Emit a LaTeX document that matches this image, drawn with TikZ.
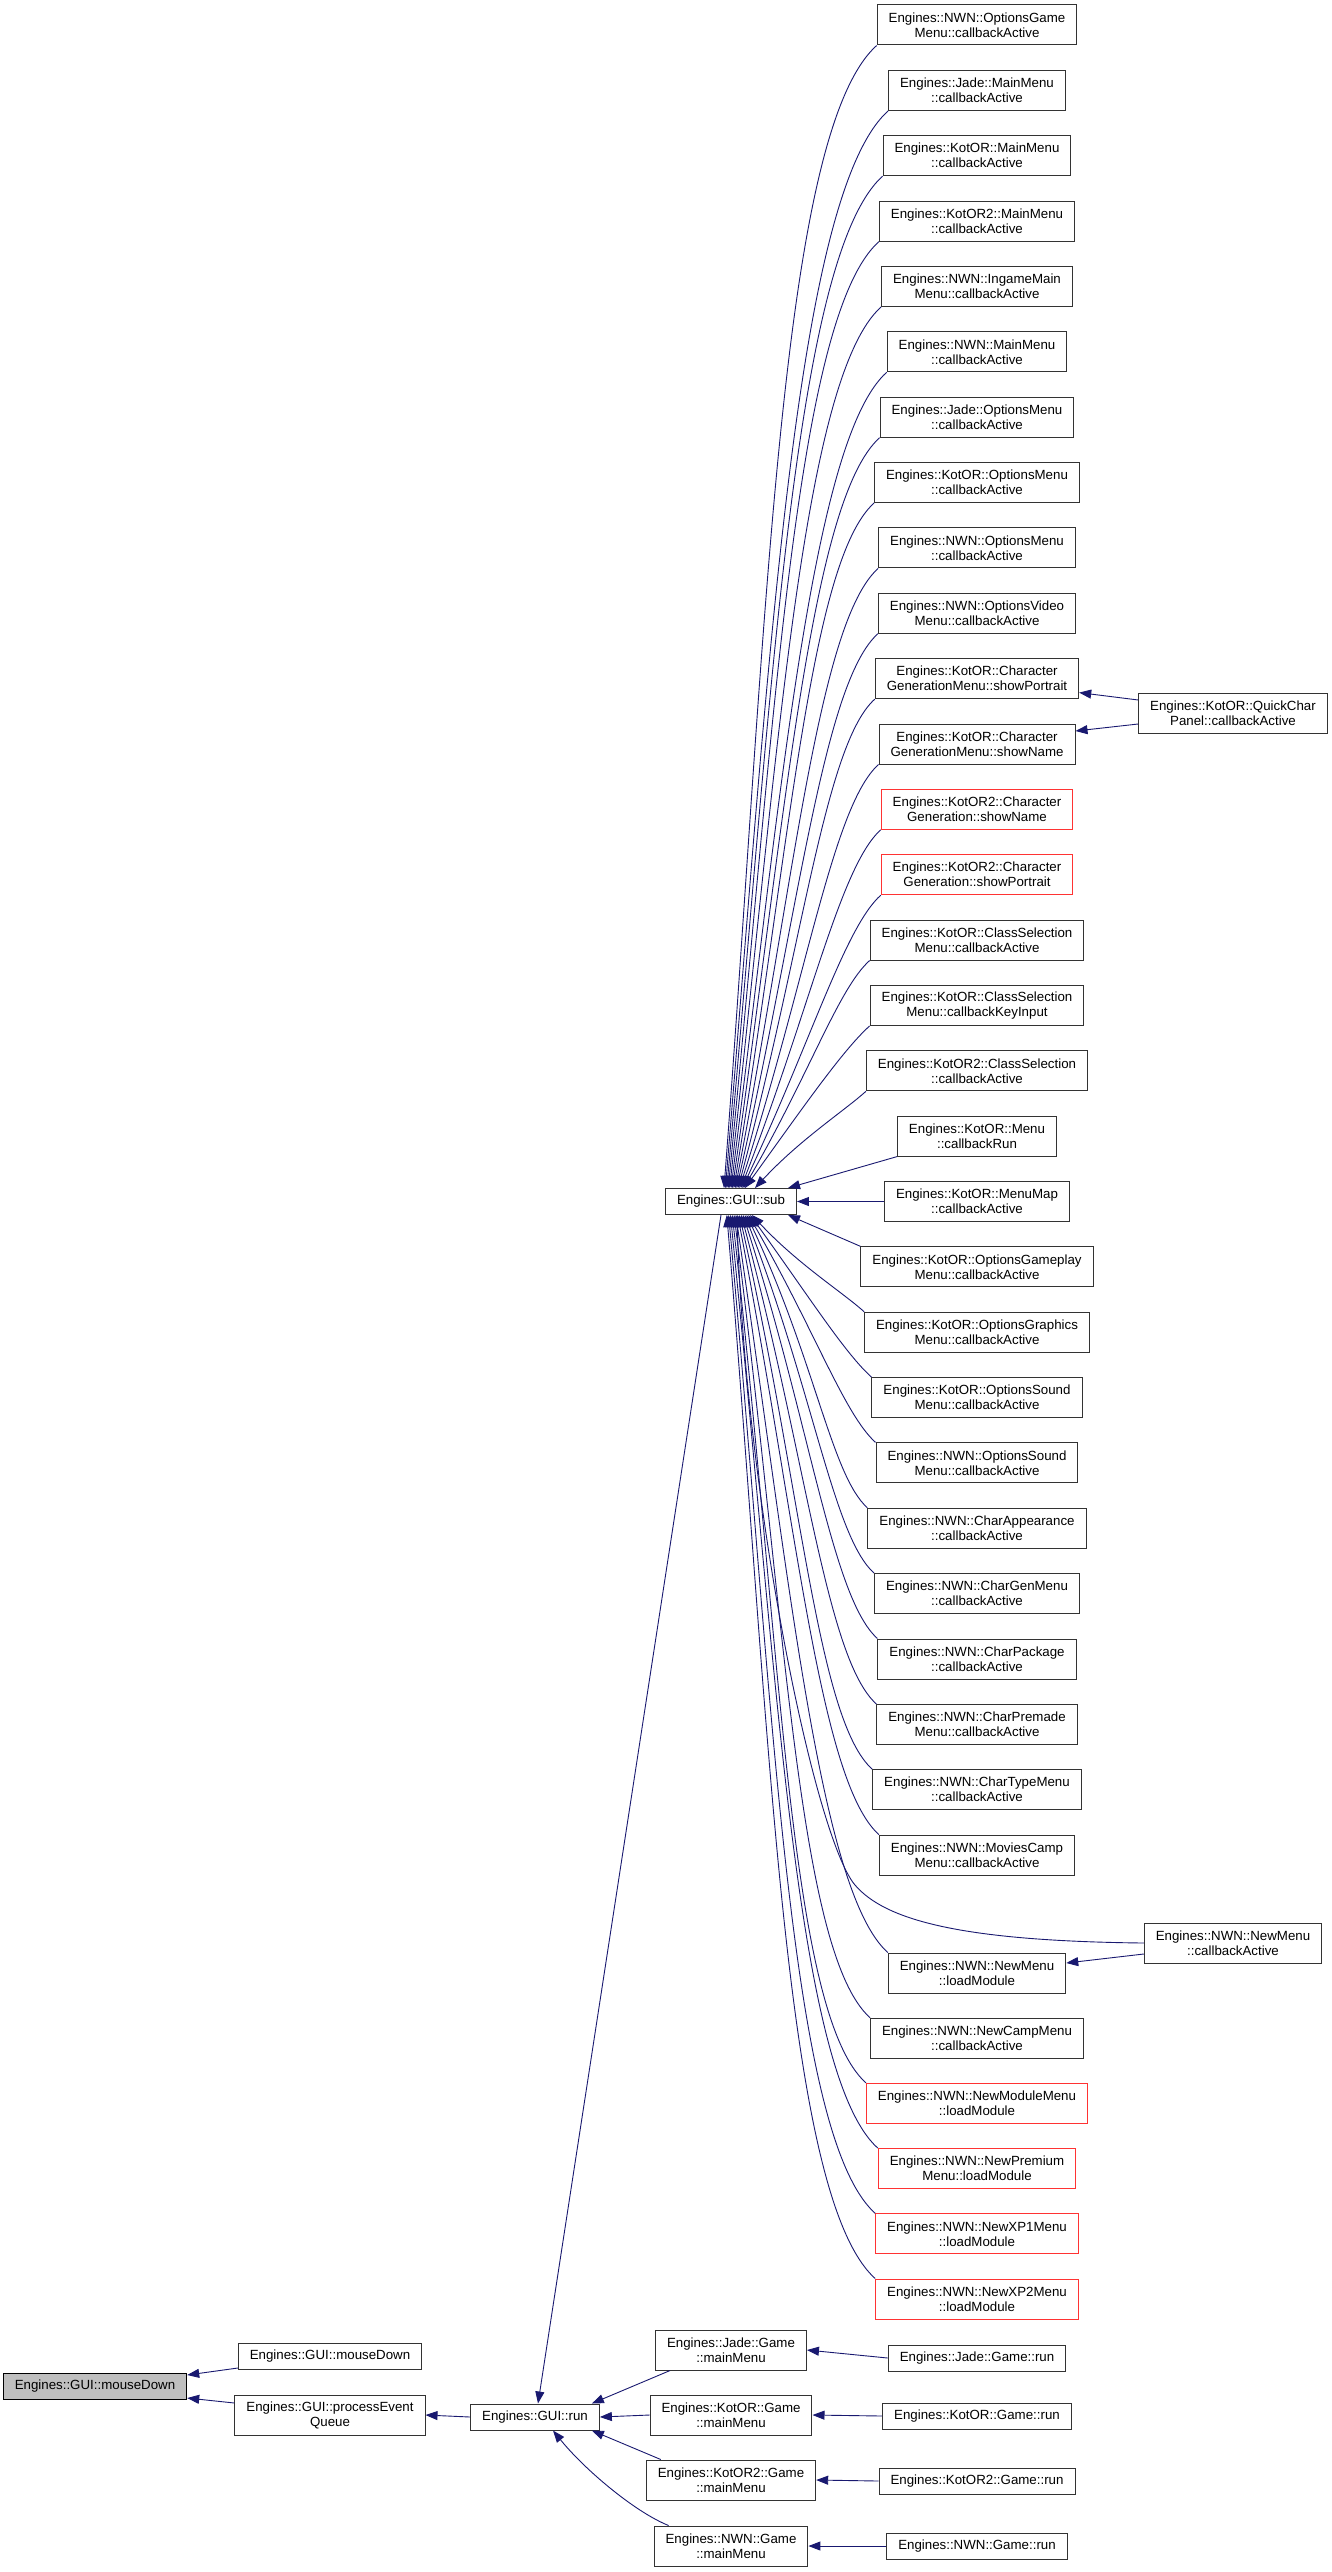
\documentclass[tikz,border=0pt]{standalone}
\usepackage{fontspec}
\setmainfont{Liberation Sans}
\usetikzlibrary{arrows.meta,calc}
\definecolor{edgec}{HTML}{191970}
\definecolor{boxc}{HTML}{333333}
\definecolor{redc}{HTML}{FF3333}
\definecolor{grayfill}{HTML}{BFBFBF}
\tikzset{
  box/.style={draw=boxc, line width=1pt, fill=white, rectangle, align=center,
    inner xsep=11.5pt, inner ysep=0pt, minimum height=26pt,
    font=\fontsize{13.3}{15}\selectfont},
  two/.style={minimum height=40pt},
  edge/.style={draw=edgec, line width=0.9pt, -{Triangle[length=12pt,width=9pt]}},
}
% #1 node, #2 x offset of arrow tip from sub centre, #3 vertical distance
\newcommand\UpEdge[3]{%
  \pgfmathsetmacro\EdH{15+#3/14}%
  \pgfmathsetmacro\EdB{#2+8+0.02*#3+0.5*#3*exp(-#3/300)}%
  \draw[edge] (#1.south west) .. controls ($(#1.south west)+(-\EdH,0.9*\EdH)$)
    and ($(sub.north)+(\EdB,-0.5*#3)$) .. ($(sub.north)+(#2,0)$);}
\newcommand\LowEdge[3]{%
  \pgfmathsetmacro\EdH{15+#3/14}%
  \pgfmathsetmacro\EdB{#2+8+0.02*#3+0.5*#3*exp(-#3/300)}%
  \draw[edge] (#1.north west) .. controls ($(#1.north west)+(-\EdH,-0.9*\EdH)$)
    and ($(sub.south)+(\EdB,0.5*#3)$) .. ($(sub.south)+(#2,0)$);}
\begin{document}
\begin{tikzpicture}[x=1pt,y=-1pt]
\fill[white] (0,0) rectangle (1332,2572);
\useasboundingbox (0,0) rectangle (1332,2572);

% column of callers of GUI::sub
\foreach \k/\y/\c/\t in {
 1/25/boxc/{Engines::NWN::OptionsGame\\Menu::callbackActive},
 2/90.4/boxc/{Engines::Jade::MainMenu\\::callbackActive},
 3/155.7/boxc/{Engines::KotOR::MainMenu\\::callbackActive},
 4/221.1/boxc/{Engines::KotOR2::MainMenu\\::callbackActive},
 5/286.4/boxc/{Engines::NWN::IngameMain\\Menu::callbackActive},
 6/351.8/boxc/{Engines::NWN::MainMenu\\::callbackActive},
 7/417.2/boxc/{Engines::Jade::OptionsMenu\\::callbackActive},
 8/482.5/boxc/{Engines::KotOR::OptionsMenu\\::callbackActive},
 9/547.9/boxc/{Engines::NWN::OptionsMenu\\::callbackActive},
 10/613.2/boxc/{Engines::NWN::OptionsVideo\\Menu::callbackActive},
 11/678.6/boxc/{Engines::KotOR::Character\\GenerationMenu::showPortrait},
 12/744/boxc/{Engines::KotOR::Character\\GenerationMenu::showName},
 13/809.3/redc/{Engines::KotOR2::Character\\Generation::showName},
 14/874.7/redc/{Engines::KotOR2::Character\\Generation::showPortrait},
 15/940/boxc/{Engines::KotOR::ClassSelection\\Menu::callbackActive},
 16/1005.4/boxc/{Engines::KotOR::ClassSelection\\Menu::callbackKeyInput},
 17/1070.8/boxc/{Engines::KotOR2::ClassSelection\\::callbackActive},
 18/1136.1/boxc/{Engines::KotOR::Menu\\::callbackRun},
 19/1201.5/boxc/{Engines::KotOR::MenuMap\\::callbackActive},
 20/1266.8/boxc/{Engines::KotOR::OptionsGameplay\\Menu::callbackActive},
 21/1332.2/boxc/{Engines::KotOR::OptionsGraphics\\Menu::callbackActive},
 22/1397.6/boxc/{Engines::KotOR::OptionsSound\\Menu::callbackActive},
 23/1462.9/boxc/{Engines::NWN::OptionsSound\\Menu::callbackActive},
 24/1528.3/boxc/{Engines::NWN::CharAppearance\\::callbackActive},
 25/1593.6/boxc/{Engines::NWN::CharGenMenu\\::callbackActive},
 26/1659/boxc/{Engines::NWN::CharPackage\\::callbackActive},
 27/1724.4/boxc/{Engines::NWN::CharPremade\\Menu::callbackActive},
 28/1789.7/boxc/{Engines::NWN::CharTypeMenu\\::callbackActive},
 29/1855.1/boxc/{Engines::NWN::MoviesCamp\\Menu::callbackActive},
 30/1973/boxc/{Engines::NWN::NewMenu\\::loadModule},
 31/2038.2/boxc/{Engines::NWN::NewCampMenu\\::callbackActive},
 32/2103.4/redc/{Engines::NWN::NewModuleMenu\\::loadModule},
 33/2168.6/redc/{Engines::NWN::NewPremium\\Menu::loadModule},
 34/2233.8/redc/{Engines::NWN::NewXP1Menu\\::loadModule},
 35/2299/redc/{Engines::NWN::NewXP2Menu\\::loadModule}}
  \node[box,two,draw=\c] (n\k) at (977,\y) {\t};

% other nodes
\node[box,two] (qc) at (1233,713) {Engines::KotOR::QuickChar\\Panel::callbackActive};
\node[box,two] (nmcb) at (1233,1943) {Engines::NWN::NewMenu\\::callbackActive};
\node[box] (sub) at (731,1201.5) {Engines::GUI::sub};
\node[box,two] (jmm) at (731,2350) {Engines::Jade::Game\\::mainMenu};
\node[box,two] (kmm) at (731,2415) {Engines::KotOR::Game\\::mainMenu};
\node[box,two] (k2mm) at (731,2480) {Engines::KotOR2::Game\\::mainMenu};
\node[box,two] (nmm) at (731,2546) {Engines::NWN::Game\\::mainMenu};
\node[box] (jr) at (977,2358) {Engines::Jade::Game::run};
\node[box] (kr) at (977,2416) {Engines::KotOR::Game::run};
\node[box] (k2r) at (977,2481) {Engines::KotOR2::Game::run};
\node[box] (nr) at (977,2546) {Engines::NWN::Game::run};
\node[box] (run) at (535,2417) {Engines::GUI::run};
\node[box,two] (peq) at (330,2415) {Engines::GUI::processEvent\\Queue};
\node[box] (md) at (330,2356) {Engines::GUI::mouseDown};
\node[box,fill=grayfill,draw=black] (gray) at (95,2386) {Engines::GUI::mouseDown};

% edges into GUI::sub from above
\foreach \k in {1,...,16}{%
  \pgfmathsetmacro\off{-7+(\k-1)*1.4}%
  \pgfmathsetmacro\DD{1188-(25+(\k-1)*65.36+20)}%
  \UpEdge{n\k}{\off}{\DD}}
\UpEdge{n17}{24}{97.2}
\draw[edge] (n18.south west) -- ($(sub.north)+(57,0)$);
\draw[edge] (n19.west) -- (sub.east);
\draw[edge] (n20.north west) -- ($(sub.south)+(57,0)$);
% edges into GUI::sub from below
\foreach \k in {21,...,35}{%
  \pgfmathsetmacro\off{21-(\k-21)*1.8}%
  \pgfmathsetmacro\yy{\k<30 ? 25+(\k-1)*65.36 : 1973+(\k-30)*65.2}%
  \pgfmathsetmacro\DD{\yy-20-1215}%
  \LowEdge{n\k}{\off}{\DD}}
\draw[edge] (nmcb.west) .. controls (960,1941) and (885,1920) .. (855,1885)
  .. controls (815,1838) and (745,1500) .. ($(sub.south)+(6,0)$);

% column 4 edges
\draw[edge] ($(qc.west)+(0,-13)$) -- ($(n11.east)+(0,14)$);
\draw[edge] ($(qc.west)+(0,11)$) -- ($(n12.east)+(0,-13)$);
\draw[edge] ($(nmcb.west)+(0,11)$) -- ($(n30.east)+(0,-10)$);

% game run -> mainMenu
\draw[edge] (jr.west) -- (jmm.east);
\draw[edge] (kr.west) -- (kmm.east);
\draw[edge] (k2r.west) -- (k2mm.east);
\draw[edge] (nr.west) -- (nmm.east);

% mainMenu -> GUI::run
\draw[edge] ($(jmm.south west)+(15,0)$) -- ($(run.north east)+(-8,0)$);
\draw[edge] (kmm.west) -- (run.east);
\draw[edge] ($(k2mm.north west)+(15,0)$) -- ($(run.south east)+(-8,0)$);
\draw[edge] ($(nmm.north west)+(15,0)$) .. controls (635,2512) and (585,2470) .. ($(run.south)+(18,0)$);

% sub -> run
\draw[edge] ($(sub.south)+(-10,0)$) -- ($(run.north)+(3,0)$);

% run -> processEventQueue -> mouseDown
\draw[edge] (run.west) -- (peq.east);
\draw[edge] ($(md.west)+(0,12)$) -- ($(gray.east)+(0,-11)$);
\draw[edge] ($(peq.west)+(0,-12)$) -- ($(gray.east)+(0,12)$);
\end{tikzpicture}
\end{document}
